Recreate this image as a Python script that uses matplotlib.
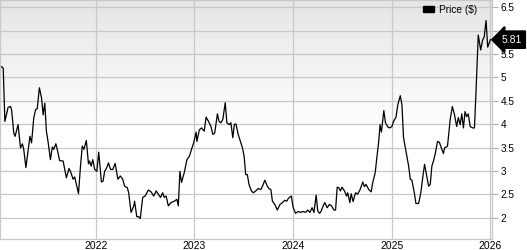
import matplotlib
matplotlib.use('Agg')
import matplotlib.pyplot as plt
from matplotlib.patches import Patch
import numpy as np
import pandas as pd

# weekly-ish closing prices
dates = [
    '2021-01-16', '2021-01-22', '2021-01-28', '2021-02-09', '2021-02-18', '2021-02-22',
    '2021-03-02', '2021-03-07', '2021-03-18', '2021-03-27', '2021-04-03', '2021-04-08',
    '2021-04-16', '2021-04-24', '2021-05-01', '2021-05-07', '2021-05-15', '2021-05-22',
    '2021-05-28', '2021-06-05', '2021-06-13', '2021-06-19', '2021-06-25', '2021-07-01',
    '2021-07-07', '2021-07-16', '2021-07-23', '2021-07-28', '2021-08-05', '2021-08-13',
    '2021-08-19', '2021-09-01', '2021-09-13', '2021-09-23', '2021-09-30', '2021-10-08',
    '2021-10-14', '2021-10-28', '2021-11-04', '2021-11-11', '2021-11-17', '2021-11-26',
    '2021-12-04', '2021-12-08', '2021-12-14', '2021-12-20', '2021-12-27',
    '2022-01-04', '2022-01-11', '2022-01-21', '2022-01-27', '2022-02-02', '2022-02-10',
    '2022-02-16', '2022-02-24', '2022-03-04', '2022-03-13', '2022-03-23', '2022-04-01',
    '2022-04-10', '2022-04-17', '2022-04-27', '2022-05-02', '2022-05-11', '2022-05-21',
    '2022-05-24', '2022-06-01', '2022-06-07', '2022-06-14', '2022-06-23', '2022-07-02',
    '2022-07-14', '2022-07-24', '2022-08-03', '2022-08-12', '2022-08-20', '2022-08-28',
    '2022-09-05', '2022-09-11', '2022-09-18', '2022-09-26', '2022-10-06', '2022-10-18',
    '2022-10-28', '2022-11-02', '2022-11-08', '2022-11-14', '2022-11-24', '2022-12-04',
    '2022-12-13', '2022-12-21', '2022-12-29',
    '2023-01-07', '2023-01-10', '2023-01-19', '2023-01-27', '2023-02-06', '2023-02-13',
    '2023-02-22', '2023-03-03', '2023-03-10', '2023-03-17', '2023-03-27', '2023-04-02',
    '2023-04-09', '2023-04-16', '2023-04-25', '2023-05-01', '2023-05-10', '2023-05-16',
    '2023-05-23', '2023-05-29', '2023-06-04', '2023-06-12', '2023-06-18', '2023-06-28',
    '2023-07-04', '2023-07-10', '2023-07-16', '2023-07-22', '2023-07-31', '2023-08-07',
    '2023-08-16', '2023-08-25', '2023-09-04', '2023-09-10', '2023-09-19', '2023-09-28',
    '2023-10-04', '2023-10-11', '2023-10-17', '2023-10-26', '2023-11-04', '2023-11-14',
    '2023-11-23', '2023-12-02', '2023-12-09', '2023-12-15', '2023-12-21', '2023-12-26',
    '2024-01-02', '2024-01-11', '2024-01-20', '2024-01-30', '2024-02-07', '2024-02-17',
    '2024-02-25', '2024-03-04', '2024-03-12', '2024-03-19', '2024-03-27', '2024-04-02',
    '2024-04-09', '2024-04-15', '2024-04-22', '2024-04-28', '2024-05-07', '2024-05-15',
    '2024-05-23', '2024-06-01', '2024-06-07', '2024-06-13', '2024-06-19', '2024-06-25',
    '2024-07-01', '2024-07-10', '2024-07-18', '2024-07-22', '2024-07-30', '2024-08-04',
    '2024-08-11', '2024-08-20', '2024-08-28', '2024-09-06', '2024-09-16', '2024-09-22',
    '2024-09-28', '2024-10-08', '2024-10-17', '2024-10-23', '2024-11-01', '2024-11-07',
    '2024-11-14', '2024-11-19', '2024-11-24', '2024-12-03', '2024-12-09', '2024-12-18',
    '2024-12-24',
    '2025-01-02', '2025-01-08', '2025-01-17', '2025-01-24', '2025-02-02', '2025-02-08',
    '2025-02-14', '2025-02-24', '2025-03-05', '2025-03-11', '2025-03-17', '2025-03-26',
    '2025-04-01', '2025-04-11', '2025-04-19', '2025-04-27', '2025-05-03', '2025-05-11',
    '2025-05-18', '2025-05-24', '2025-05-30', '2025-06-05', '2025-06-11', '2025-06-20',
    '2025-06-27', '2025-07-06', '2025-07-12', '2025-07-16', '2025-07-27', '2025-08-06',
    '2025-08-14', '2025-08-22', '2025-08-30', '2025-09-05', '2025-09-12', '2025-09-18',
    '2025-09-24', '2025-09-30', '2025-10-06', '2025-10-12', '2025-10-19', '2025-10-28',
    '2025-11-04', '2025-11-10', '2025-11-18', '2025-11-27', '2025-12-04', '2025-12-10',
    '2025-12-17', '2025-12-23', '2026-01-02',
]
prices = [
    5.23, 5.20, 4.06, 4.36, 4.38, 4.31,
    3.81, 3.74, 3.99, 3.49, 3.58, 3.46,
    3.07, 3.42, 3.74, 3.60, 4.13, 4.31,
    4.33, 4.78, 4.56, 4.20, 4.45, 3.85,
    3.63, 3.24, 3.51, 3.46, 3.58, 3.39,
    3.22, 3.21, 2.85, 3.05, 2.96, 2.82,
    2.87, 2.51, 3.07, 3.53, 3.46, 3.65,
    3.15, 3.21, 3.10, 3.24, 3.03,
    2.99, 3.40, 2.76, 2.78, 2.99, 3.07,
    3.17, 3.03, 3.03, 3.16, 2.82, 2.89,
    2.82, 2.67, 2.64, 2.53, 2.11, 2.25,
    2.35, 2.02, 2.02, 1.98, 2.43, 2.46,
    2.59, 2.55, 2.46, 2.57, 2.50, 2.43,
    2.53, 2.43, 2.46, 2.25, 2.32, 2.35,
    2.39, 2.25, 2.99, 2.75, 2.96, 3.24,
    3.31, 3.46, 3.60,
    3.83, 3.63, 3.88, 3.92, 3.85, 4.15,
    4.06, 3.95, 3.78, 3.81, 4.22, 4.06,
    4.03, 4.10, 4.46, 4.03, 3.99, 4.03,
    3.71, 4.00, 4.00, 3.78, 3.67, 3.49,
    3.31, 2.92, 2.92, 2.71, 2.57, 2.53,
    2.57, 2.62, 2.60, 2.67, 2.80, 2.67,
    2.62, 2.60, 2.35, 2.28, 2.16, 2.28,
    2.32, 2.37, 2.35, 2.41, 2.44, 2.46,
    2.21, 2.09, 2.13, 2.11, 2.13, 2.11,
    2.16, 2.11, 2.21, 2.11, 2.48, 2.14,
    2.09, 2.14, 2.25, 2.32, 2.21, 2.28,
    2.25, 2.16, 2.16, 2.65, 2.64, 2.57,
    2.65, 2.57, 2.46, 2.53, 2.32, 2.51,
    2.34, 2.53, 2.50, 2.60, 2.76, 2.66,
    2.71, 2.60, 2.55, 2.75, 2.96, 3.28,
    3.63, 3.99, 3.83, 4.29, 4.03, 3.94,
    3.92,
    3.95, 4.06, 4.15, 4.42, 4.61, 4.42,
    3.71, 3.39, 3.10, 2.82, 2.80, 2.53,
    2.30, 2.30, 2.53, 2.89, 3.14, 2.89,
    2.67, 2.71, 3.10, 3.21, 3.35, 3.63,
    3.61, 3.46, 3.37, 3.49, 3.53, 4.10,
    4.38, 4.20, 3.95, 4.14, 3.99, 4.22,
    3.92, 4.27, 4.16, 4.22, 3.95, 3.92,
    3.92, 4.74, 5.91, 5.59, 5.80, 5.87,
    6.22, 5.65, 5.81,
]
y_ticks = [2, 2.5, 3, 3.5, 4, 4.5, 5, 5.5, 6, 6.5]
x_years = ['2022', '2023', '2024', '2025', '2026']
last_price = 5.81

df = pd.DataFrame({'date': pd.to_datetime(dates), 'price': prices})

plt.rcParams['font.family'] = ['Liberation Sans', 'DejaVu Sans']
fig = plt.figure(figsize=(5.27, 2.5), dpi=100)
ax = fig.add_axes([0.0, 0.044, 0.9336, 0.956])

# gray (top) to white background gradient
grad = np.linspace(0, 1, 256).reshape(-1, 1)
grad = np.clip(grad / 0.55, 0, 1)
top = np.array([0.90, 0.90, 0.90])
img = top + (1 - top) * grad[..., None]
ax.imshow(img, extent=[0, 1, 0, 1], origin='upper', transform=ax.transAxes,
          aspect='auto', zorder=0)

ax.plot(df['date'], df['price'], color='black', lw=0.9, zorder=3)

ax.set_xlim(pd.Timestamp('2021-01-10'), pd.Timestamp('2026-01-08'))
ax.set_ylim(1.54, 6.66)

ax.set_yticks(y_ticks)
ax.set_yticklabels(['%g' % t for t in y_ticks])
ax.set_xticks(pd.to_datetime([y + '-01-01' for y in x_years]))
ax.set_xticklabels(x_years)

ax.yaxis.tick_right()
ax.tick_params(axis='y', length=4.5, width=0.8, color='#b0b0b0', pad=1.5, labelsize=7.2)
ax.tick_params(axis='x', length=0, pad=1.5, labelsize=7.5)

ax.grid(True, color='#c8c8c8', lw=0.9, zorder=1)
ax.set_axisbelow(True)
for s in ax.spines.values():
    s.set_color('#c8c8c8')
    s.set_linewidth(0.9)

# legend
ax.legend(handles=[Patch(facecolor='black', edgecolor='black', label='Price ($)')],
          loc='upper right', bbox_to_anchor=(0.985, 1.01), frameon=False,
          fontsize=7.3, handlelength=1.1, handleheight=0.45, handletextpad=0.5,
          borderaxespad=0.3)

# last price tag
ax.annotate('%.2f' % last_price, xy=(1.0, last_price), xycoords=ax.get_yaxis_transform(),
            xytext=(1.019, last_price), textcoords=ax.get_yaxis_transform(),
            va='center', ha='left', color='white', fontsize=7.5, annotation_clip=False,
            bbox=dict(boxstyle='larrow,pad=0.35', fc='black', ec='black'), zorder=10)

fig.savefig('out.png', dpi=100)
